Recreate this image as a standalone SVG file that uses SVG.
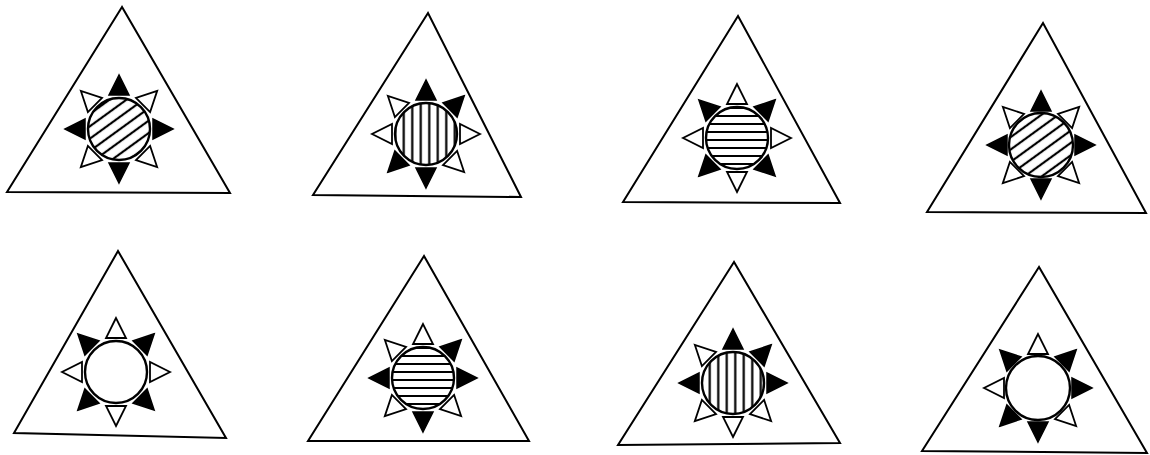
<svg xmlns="http://www.w3.org/2000/svg" xmlns:xlink="http://www.w3.org/1999/xlink" width="1150" height="455" viewBox="0 0 1150 455">
<style>
.tri{fill:none;stroke:#000;stroke-width:2;stroke-linejoin:miter}
.disc{stroke:#000;stroke-width:2.4}
.b{fill:#000;stroke:#000;stroke-width:1.5;stroke-linejoin:miter}
.w{fill:#fff;stroke:#000;stroke-width:1.8;stroke-linejoin:miter}
.plain{fill:#fff}
.vert{fill:url(#pv)}
.hori{fill:url(#ph)}
.diag{fill:url(#pd)}
</style>
<defs>
<pattern id="pv" patternUnits="userSpaceOnUse" width="8.5" height="10">
<rect width="8.5" height="10" fill="#fff"/>
<line x1="4.25" y1="0" x2="4.25" y2="10" stroke="#000" stroke-width="2.2"/>
</pattern>
<pattern id="ph" patternUnits="userSpaceOnUse" width="10" height="8">
<rect width="10" height="8" fill="#fff"/>
<line x1="0" y1="4" x2="10" y2="4" stroke="#000" stroke-width="2"/>
</pattern>
<pattern id="pd" patternUnits="userSpaceOnUse" width="10" height="10" patternTransform="rotate(-36)">
<rect width="10" height="10" fill="#fff"/>
<line x1="0" y1="5" x2="10" y2="5" stroke="#000" stroke-width="2.2"/>
</pattern>
<polygon id="ar" points="0,-54 -10,-34 10,-34"/>
</defs>

<g id="fig1">
<polygon class="tri" points="122,7 7,192 230,193"/>
<circle class="disc diag" cx="119" cy="129" r="31"/>
<g transform="translate(119,129)">
<use href="#ar" class="b" transform="rotate(0)"/>
<use href="#ar" class="w" transform="rotate(45)"/>
<use href="#ar" class="b" transform="rotate(90)"/>
<use href="#ar" class="w" transform="rotate(135)"/>
<use href="#ar" class="b" transform="rotate(180)"/>
<use href="#ar" class="w" transform="rotate(225)"/>
<use href="#ar" class="b" transform="rotate(270)"/>
<use href="#ar" class="w" transform="rotate(315)"/>
</g>
</g>

<g id="fig2">
<polygon class="tri" points="428,13 313,195 521,197"/>
<circle class="disc vert" cx="426" cy="134" r="31"/>
<g transform="translate(426,134)">
<use href="#ar" class="b" transform="rotate(0)"/>
<use href="#ar" class="b" transform="rotate(45)"/>
<use href="#ar" class="w" transform="rotate(90)"/>
<use href="#ar" class="w" transform="rotate(135)"/>
<use href="#ar" class="b" transform="rotate(180)"/>
<use href="#ar" class="b" transform="rotate(225)"/>
<use href="#ar" class="w" transform="rotate(270)"/>
<use href="#ar" class="w" transform="rotate(315)"/>
</g>
</g>

<g id="fig3">
<polygon class="tri" points="738,16 623,202 840,203"/>
<circle class="disc hori" cx="737" cy="138" r="31"/>
<g transform="translate(737,138)">
<use href="#ar" class="w" transform="rotate(0)"/>
<use href="#ar" class="b" transform="rotate(45)"/>
<use href="#ar" class="w" transform="rotate(90)"/>
<use href="#ar" class="b" transform="rotate(135)"/>
<use href="#ar" class="w" transform="rotate(180)"/>
<use href="#ar" class="b" transform="rotate(225)"/>
<use href="#ar" class="w" transform="rotate(270)"/>
<use href="#ar" class="b" transform="rotate(315)"/>
</g>
</g>

<g id="fig4">
<polygon class="tri" points="1043,23 927,212 1146,213"/>
<circle class="disc diag" cx="1041" cy="145" r="32"/>
<g transform="translate(1041,145)">
<use href="#ar" class="b" transform="rotate(0)"/>
<use href="#ar" class="w" transform="rotate(45)"/>
<use href="#ar" class="b" transform="rotate(90)"/>
<use href="#ar" class="w" transform="rotate(135)"/>
<use href="#ar" class="b" transform="rotate(180)"/>
<use href="#ar" class="w" transform="rotate(225)"/>
<use href="#ar" class="b" transform="rotate(270)"/>
<use href="#ar" class="w" transform="rotate(315)"/>
</g>
</g>

<g id="fig5">
<polygon class="tri" points="118,251 14,433 226,438"/>
<circle class="disc plain" cx="116" cy="372" r="31"/>
<g transform="translate(116,372)">
<use href="#ar" class="w" transform="rotate(0)"/>
<use href="#ar" class="b" transform="rotate(45)"/>
<use href="#ar" class="w" transform="rotate(90)"/>
<use href="#ar" class="b" transform="rotate(135)"/>
<use href="#ar" class="w" transform="rotate(180)"/>
<use href="#ar" class="b" transform="rotate(225)"/>
<use href="#ar" class="w" transform="rotate(270)"/>
<use href="#ar" class="b" transform="rotate(315)"/>
</g>
</g>

<g id="fig6">
<polygon class="tri" points="424,256 308,441 529,441"/>
<circle class="disc hori" cx="423" cy="378" r="31"/>
<g transform="translate(423,378)">
<use href="#ar" class="w" transform="rotate(0)"/>
<use href="#ar" class="b" transform="rotate(45)"/>
<use href="#ar" class="b" transform="rotate(90)"/>
<use href="#ar" class="w" transform="rotate(135)"/>
<use href="#ar" class="b" transform="rotate(180)"/>
<use href="#ar" class="w" transform="rotate(225)"/>
<use href="#ar" class="b" transform="rotate(270)"/>
<use href="#ar" class="w" transform="rotate(315)"/>
</g>
</g>

<g id="fig7">
<polygon class="tri" points="734,262 618,445 840,443"/>
<circle class="disc vert" cx="733" cy="383" r="31"/>
<g transform="translate(733,383)">
<use href="#ar" class="b" transform="rotate(0)"/>
<use href="#ar" class="b" transform="rotate(45)"/>
<use href="#ar" class="b" transform="rotate(90)"/>
<use href="#ar" class="w" transform="rotate(135)"/>
<use href="#ar" class="w" transform="rotate(180)"/>
<use href="#ar" class="w" transform="rotate(225)"/>
<use href="#ar" class="b" transform="rotate(270)"/>
<use href="#ar" class="w" transform="rotate(315)"/>
</g>
</g>

<g id="fig8">
<polygon class="tri" points="1039,267 922,451 1147,453"/>
<circle class="disc plain" cx="1038" cy="388" r="32"/>
<g transform="translate(1038,388)">
<use href="#ar" class="w" transform="rotate(0)"/>
<use href="#ar" class="b" transform="rotate(45)"/>
<use href="#ar" class="b" transform="rotate(90)"/>
<use href="#ar" class="w" transform="rotate(135)"/>
<use href="#ar" class="b" transform="rotate(180)"/>
<use href="#ar" class="b" transform="rotate(225)"/>
<use href="#ar" class="w" transform="rotate(270)"/>
<use href="#ar" class="b" transform="rotate(315)"/>
</g>
</g>
</svg>
